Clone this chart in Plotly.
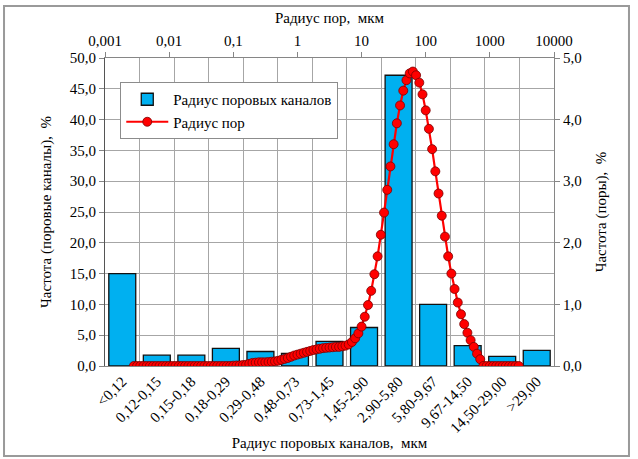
import plotly.graph_objects as go

# --- data -------------------------------------------------------------
channel_labels = ["<0,12", "0,12-0,15", "0,15-0,18", "0,18-0,29", "0,29-0,48",
                  "0,48-0,73", "0,73-1,45", "1,45-2,90", "2,90-5,80", "5,80-9,67",
                  "9,67-14,50", "14,50-29,00", ">29,00"]
channel_freq = [15.0, 1.75, 1.75, 2.85, 2.35, 2.05, 4.0, 6.25, 47.2, 10.0, 3.3, 1.55, 2.55]

pore_radius = [
    0.002818, 0.003162, 0.003548, 0.003981, 0.004467, 0.005012, 0.005623, 0.006310, 0.007079, 0.007943, 0.008913,
    0.01, 0.01122, 0.01259, 0.01413, 0.01585, 0.01778, 0.01995, 0.02239, 0.02512, 0.02818,
    0.03162, 0.03548, 0.03981, 0.04467, 0.05012, 0.05623, 0.06310, 0.07079, 0.07943, 0.08913,
    0.1, 0.1122, 0.1259, 0.1413, 0.1585, 0.1778, 0.1995, 0.2239, 0.2512, 0.2818,
    0.3162, 0.3548, 0.3981, 0.4467, 0.5012, 0.5623, 0.6310, 0.7079, 0.7943, 0.8913,
    1.0, 1.122, 1.259, 1.413, 1.585, 1.778, 1.995, 2.239, 2.512, 2.818,
    3.162, 3.548, 3.981, 4.467, 5.012, 5.623, 6.310, 7.079, 7.943, 8.913,
    10.0, 11.22, 12.59, 14.13, 15.85, 17.78, 19.95, 22.39, 25.12, 28.18,
    31.62, 35.48, 39.81, 44.67, 50.12, 56.23, 63.10, 70.79, 79.43, 89.13,
    100.0, 112.2, 125.9, 141.3, 158.5, 177.8, 199.5, 223.9, 251.2, 281.8,
    316.2, 354.8, 398.1, 446.7, 501.2, 562.3, 631.0, 707.9, 794.3, 891.3,
    1000.0, 1122.0, 1259.0, 1413.0, 1585.0, 1778.0, 1995.0, 2239.0, 2512.0, 2818.0,
]
pore_freq = [
    0, 0, 0, 0, 0, 0, 0, 0, 0, 0, 0,
    0, 0, 0, 0, 0, 0, 0, 0, 0, 0,
    0, 0, 0, 0, 0, 0, 0, 0, 0, 0,
    0.005, 0.008, 0.01, 0.015, 0.02, 0.035, 0.05, 0.055, 0.06, 0.06,
    0.06, 0.065, 0.07, 0.075, 0.085, 0.10, 0.115, 0.13, 0.15, 0.17,
    0.185, 0.20, 0.215, 0.23, 0.245, 0.26, 0.27, 0.28, 0.29, 0.295,
    0.30, 0.305, 0.31, 0.31, 0.32, 0.33, 0.35, 0.39, 0.45, 0.53,
    0.64, 0.80, 0.99, 1.22, 1.49, 1.78, 2.13, 2.49, 2.86, 3.24,
    3.60, 3.94, 4.23, 4.47, 4.64, 4.75, 4.78, 4.72, 4.60, 4.41,
    4.15, 3.85, 3.52, 3.16, 2.80, 2.44, 2.10, 1.78, 1.50, 1.25,
    1.03, 0.84, 0.68, 0.54, 0.42, 0.31, 0.20, 0.11, 0, 0,
    0, 0, 0, 0, 0, 0, 0, 0, 0, 0,
]

top_tickvals = [0.001, 0.01, 0.1, 1, 10, 100, 1000, 10000]
top_ticktext = ["0,001", "0,01", "0,1", "1", "10", "100", "1000", "10000"]

# --- figure -----------------------------------------------------------
FONT = "Liberation Serif"
GRID = "#a6a6a6"
AX = "#868686"
F15 = dict(family=FONT, size=15, color="black")

fig = go.Figure()
fig.add_trace(go.Bar(
    x=channel_labels, y=channel_freq, name="Радиус поровых каналов",
    marker=dict(color="#00b0f0", line=dict(color="#111111", width=1.3)),
    xaxis="x", yaxis="y",
))
fig.add_trace(go.Scatter(
    x=pore_radius, y=pore_freq, name="Радиус пор", mode="lines+markers",
    line=dict(color="#ff0000", width=2.2),
    marker=dict(color="#ff0000", size=9, line=dict(color="#7a0000", width=0.8)),
    xaxis="x2", yaxis="y2",
))

fig.update_layout(
    width=638, height=459,
    margin=dict(l=105, r=84, t=58, b=93, autoexpand=False),
    paper_bgcolor="white", plot_bgcolor="white",
    separators=", ",
    font=F15,
    bargap=0.22,
    showlegend=True,
    legend=dict(x=0.034, y=0.922, xanchor="left", yanchor="top",
                bgcolor="white", bordercolor="#8c8c8c", borderwidth=1,
                font=F15, itemwidth=42, tracegroupgap=2),
    xaxis=dict(
        type="category", range=[-0.5, 12.5], tickangle=-45,
        tickson="boundaries", showgrid=True, gridcolor=GRID, gridwidth=1,
        showline=True, linecolor=AX, linewidth=1, ticks="",
        title=dict(text="Радиус поровых каналов,  мкм", standoff=2, font=F15),
        tickfont=F15,
    ),
    yaxis=dict(
        range=[0, 50], dtick=5, tickformat=".1f", showgrid=True,
        gridcolor=GRID, gridwidth=1, zeroline=False,
        showline=True, linecolor="#555555", linewidth=1,
        ticks="outside", ticklen=5, tickcolor=AX,
        title=dict(text="Частота (поровые каналы),  %", standoff=14, font=F15),
        tickfont=F15,
    ),
    xaxis2=dict(
        type="log", range=[-3, 4], overlaying="x", side="top",
        tickvals=top_tickvals, ticktext=top_ticktext, showgrid=False,
        showline=True, linecolor=AX, linewidth=1,
        ticks="outside", ticklen=5, tickcolor=AX, zeroline=False,
        title=dict(text="Радиус пор,  мкм", standoff=5, font=F15),
        tickfont=F15,
    ),
    yaxis2=dict(
        range=[0, 5], dtick=1, tickformat=".1f", overlaying="y", side="right",
        showgrid=False, zeroline=False,
        showline=True, linecolor=AX, linewidth=1,
        ticks="outside", ticklen=5, tickcolor=AX,
        title=dict(text="Частота (поры),  %", standoff=14, font=F15),
        tickfont=F15,
    ),
    shapes=[dict(type="rect", xref="paper", yref="paper",
                 x0=-0.2249, x1=1.167, y0=-0.292, y1=1.169,
                 line=dict(color="#9a9a9a", width=2), fillcolor="rgba(0,0,0,0)")],
)

fig.write_html("out.html")
